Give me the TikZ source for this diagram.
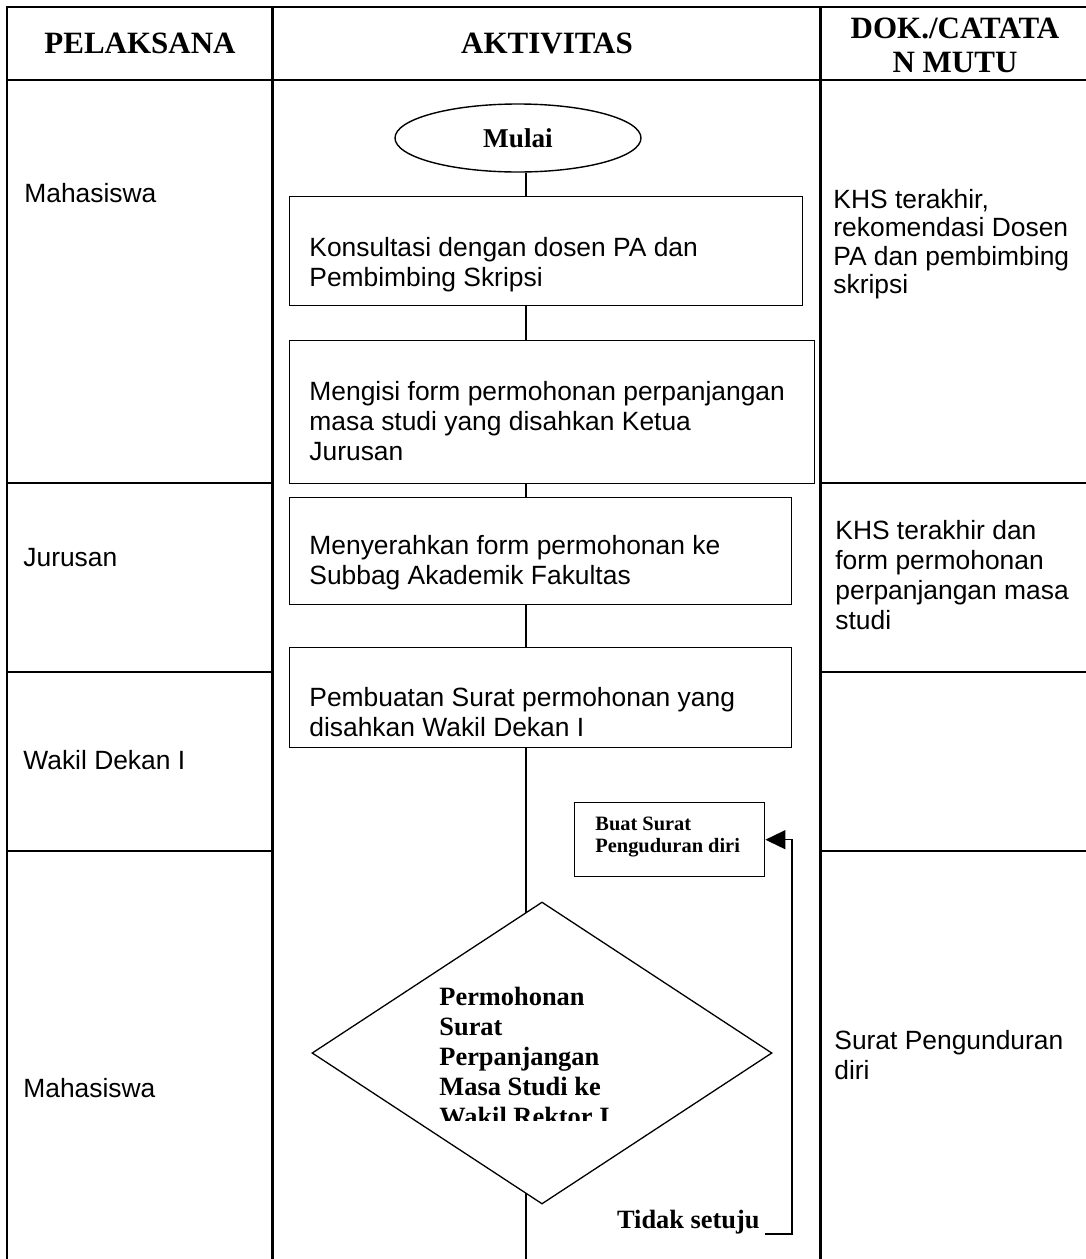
\documentclass[tikz,border=0pt]{standalone}
\usepackage{fontspec}
\setmainfont{Liberation Serif}
\setsansfont{Liberation Sans}
\usetikzlibrary{shapes.geometric,arrows.meta}

\tikzset{
  grid/.style={line width=1.1pt},
  flow/.style={line width=0.7pt},
  head/.style={align=center,font=\bfseries\fontsize{15.5}{17}\selectfont},
  lane/.style={anchor=west,inner sep=0pt,font=\sffamily\fontsize{13.2}{15}\selectfont},
  doc/.style={anchor=north west,inner sep=0pt,align=left,font=\sffamily\fontsize{13.2}{15}\selectfont},
  box/.style={draw,line width=0.7pt,anchor=north west,inner sep=0pt},
  boxtext/.style={anchor=west,inner sep=0pt,align=left,font=\sffamily\fontsize{13.2}{15}\selectfont},
  serifbold/.style={inner sep=0pt,align=left,font=\bfseries\fontsize{13.2}{15}\selectfont},
  start/.style={ellipse,draw,line width=0.7pt,inner sep=0pt,minimum width=123pt,minimum height=34pt,font=\bfseries\fontsize{13.6}{15}\selectfont},
  decide/.style={diamond,draw,fill=white,line width=0.65pt,inner sep=0pt,minimum width=230pt,minimum height=151pt}
}

\begin{document}
\begin{tikzpicture}[x=0.5pt,y=-0.5pt]
    \useasboundingbox (0,0) rectangle (1086,1259);
    \draw[grid] (1086,7) -- (7,7) -- (7,1259);
    \draw[grid] (7,80) -- (1086,80);
    \foreach \x in {272.5,820.5} \draw[grid] (\x,7) -- (\x,1259);
    \foreach \y in {483,672,851} {
        \draw[grid] (7,\y) -- (272.5,\y);
        \draw[grid] (820.5,\y) -- (1086,\y);
    }
    \node[head] (pel) at (140,43) {PELAKSANA};
    \node[head] (akt) at (547,43) {AKTIVITAS};
    \node[head] (dok) at (955,45) {DOK./CATATA\\N MUTU};
    \node[lane] (mhs1) at (24,193) {Mahasiswa};
    \node[lane] (jur) at (23,558) {Jurusan};
    \node[lane] (wd) at (23,760) {Wakil Dekan I};
    \node[lane] (mhs2) at (23,1088) {Mahasiswa};
    \node[doc,font=\sffamily\fontsize{13.2}{14.2}\selectfont] (dok1) at (833,189) {KHS terakhir,\\rekomendasi Dosen\\PA dan pembimbing\\skripsi};
    \node[doc] (dok2) at (835,520) {KHS terakhir dan\\form permohonan\\perpanjangan masa\\studi};
    \node[doc] (dok3) at (834,1030) {Surat Pengunduran\\diri};

    \node[start] (mulai) at (518,138) {Mulai};
    \node[box,minimum width=256.5pt,minimum height=54.5pt] (konsul) at (289,196) {};
    \node[box,minimum width=262.5pt,minimum height=71.5pt] (mengisi) at (289,340) {};
    \node[box,minimum width=251pt,minimum height=53.5pt] (menyerah) at (289,497) {};
    \node[box,minimum width=251pt,minimum height=50pt] (pembuatan) at (289,647) {};
    \node[box,minimum width=95pt,minimum height=37pt] (buat) at (574,802) {};
    \node[boxtext] (konsultxt) at (309,265) {Konsultasi dengan dosen PA dan\\Pembimbing Skripsi};
    \node[boxtext] (mengisitxt) at (309,421) {Mengisi form permohonan perpanjangan\\masa studi yang disahkan Ketua\\Jurusan};
    \node[boxtext] (menyerahtxt) at (309,563) {Menyerahkan form permohonan ke\\Subbag Akademik Fakultas};
    \node[boxtext] (pembuatantxt) at (309,712) {Pembuatan Surat permohonan yang\\disahkan Wakil Dekan I};
    \node[serifbold,anchor=west,font=\bfseries\fontsize{10.2}{11}\selectfont] (buattxt) at (595,837) {Buat Surat\\Penguduran diri};

    \coordinate (spine) at (526,0);
    \coordinate (bottom) at (526,1259);
    \coordinate (tidakend) at (765,1234);
    \foreach \a/\b in {mulai/konsul,konsul/mengisi,mengisi/menyerah,menyerah/pembuatan}
        \draw[flow] (\a.south -| spine) -- (\b.north -| spine);
    \draw[flow] (pembuatan.south -| spine) -- (bottom);

    \node[decide] (cek) at (542,1053) {};
    \begin{scope}
        \clip (430,975) rectangle (700,1120);
        \node[serifbold,anchor=north west] (cektxt) at (439,987) {Permohonan\\Surat\\Perpanjangan\\Masa Studi ke\\Wakil Rektor I};
    \end{scope}
    \node[serifbold,anchor=base east] (tidak) at (760,1228) {Tidak setuju};
    \draw[flow,-{Triangle[length=10pt,width=9.5pt]}] (tidakend) -| ([xshift=13.3pt]buat.east) -- (buat.east);
\end{tikzpicture}
\end{document}
